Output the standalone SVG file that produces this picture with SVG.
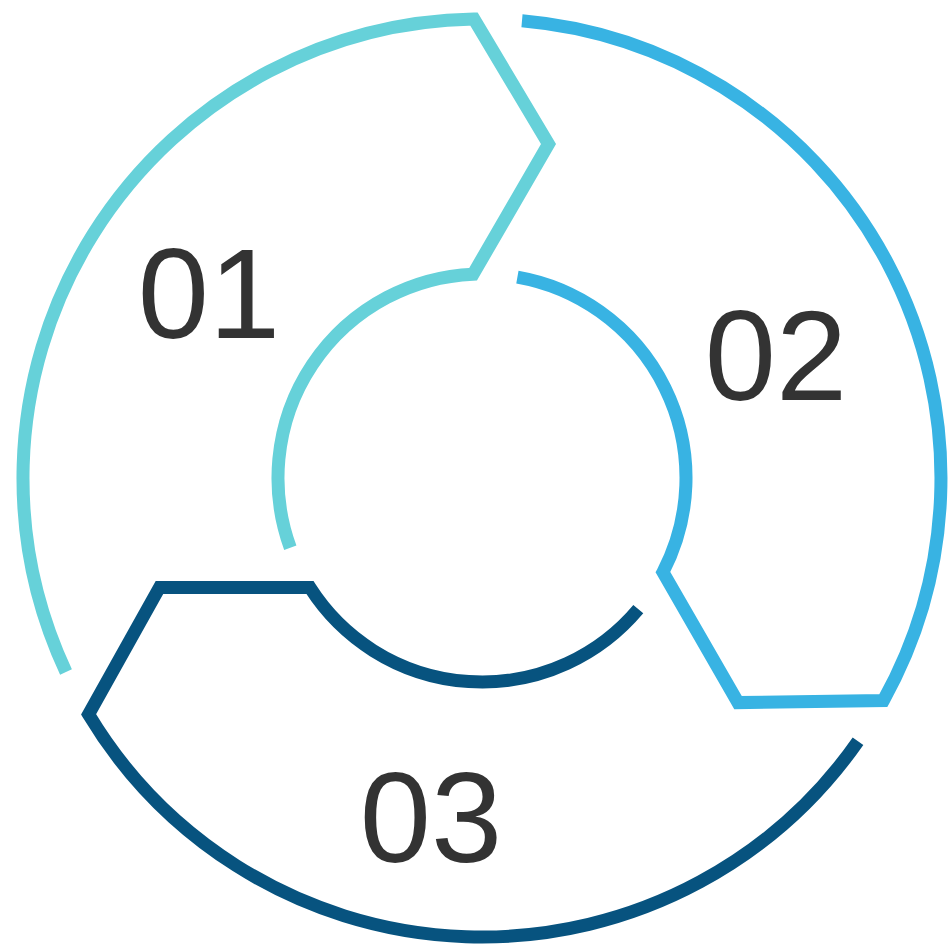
<svg xmlns="http://www.w3.org/2000/svg" width="949" height="951" viewBox="0 0 949 951">
<style>
.seg{fill:none;stroke-width:13;stroke-linejoin:miter;stroke-miterlimit:10;stroke-linecap:butt}
.lbl{font-family:"Liberation Sans",Arial,sans-serif;font-size:128px;fill:#333333;text-anchor:middle}
</style>
<defs>
<path id="shape" d="M -416 194 A 459 459 0 0 1 -8 -458.9 L 66.5 -334 L -8.9 -203.8 A 204 204 0 0 0 -191.7 69.8"/>
</defs>
<rect width="949" height="951" fill="#ffffff"/>
<g id="connectors" transform="translate(482,478)">
<g id="seg1"><use href="#shape" class="seg" stroke="#66D1D9"/></g>
<g id="seg2"><use href="#shape" class="seg" stroke="#38B3E3" transform="rotate(120)"/></g>
<g id="seg3"><use href="#shape" class="seg" stroke="#07537F" transform="rotate(240)"/></g>
</g>
<g id="node1"><text class="lbl" x="209" y="338">01</text></g>
<g id="node2"><text class="lbl" x="776" y="400">02</text></g>
<g id="node3"><text class="lbl" x="431" y="862">03</text></g>
</svg>
